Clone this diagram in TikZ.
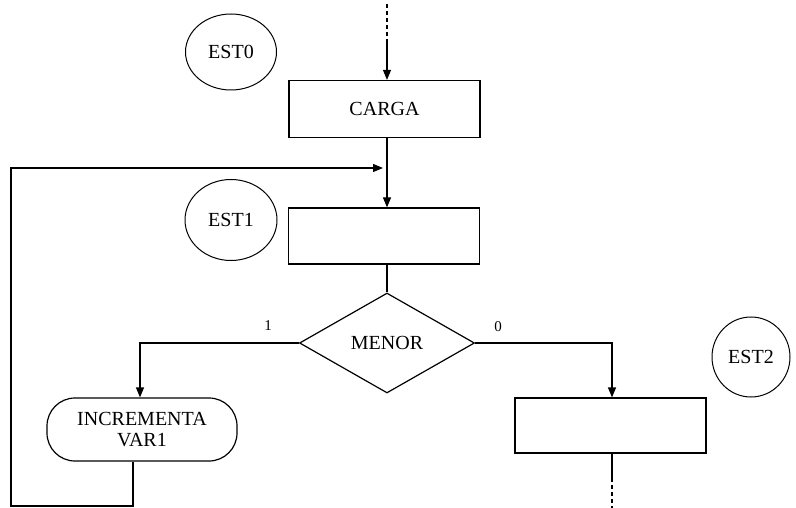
\documentclass[tikz,border=0pt]{standalone}
\usepackage{fontspec}
\setmainfont{Liberation Serif}
\usetikzlibrary{shapes.geometric,arrows.meta}
\begin{document}
\begin{tikzpicture}[x=1pt,y=-1pt,
  line width=1.2pt,
  every node/.style={font=\fontsize{20}{22}\selectfont, inner sep=0pt},
  state/.style={ellipse, draw, line width=1pt},
  proc/.style={rectangle, draw, minimum width=191pt, minimum height=56pt},
  decis/.style={diamond, draw, minimum width=175pt, minimum height=100pt, aspect=1.75},
  term/.style={rectangle, draw, rounded corners=28pt, minimum width=190pt, minimum height=63pt, align=center},
  flow/.style={-{Triangle[width=8pt,length=10pt]}},
  dotline/.style={dash pattern=on 4pt off 3pt},
  branch/.style={font=\fontsize{15}{17}\selectfont}]
\useasboundingbox (0,0) rectangle (796,508);

% state labels
\node[state, minimum width=91pt, minimum height=76pt] (est0) at (231,52) {EST0};
\node[state, minimum width=92pt, minimum height=81pt] (est1) at (231,220) {EST1};
\node[state, minimum width=78pt, minimum height=80pt] (est2) at (751,357) {EST2};

% blocks
\node[proc, minimum height=57pt] (carga) at (384.5,109) {CARGA};
\node[proc] (blk1) at (384,236) {};
\node[decis] (menor) at (387,343) {MENOR};
\node[term] (incr) at (142,429.5) {INCREMENTA\\[-1pt]VAR1};
\node[proc, minimum height=55pt] (blk2) at (610.5,425.5) {};

% branch labels
\node[branch] (lab1) at (268,326) {1};
\node[branch] (lab0) at (498,327) {0};

% spine coordinates
\coordinate (top) at (387,4);
\coordinate (topd) at (387,42);
\coordinate (join) at (387,168);
\coordinate (corner1) at (11,168);
\coordinate (corner2) at (11,506);
\coordinate (incrout) at (133,506);
\coordinate (leftturn) at (140,343);
\coordinate (rightturn) at (612,343);
\coordinate (endsol) at (612,478);
\coordinate (bottom) at (612,508);

% entry
\draw[dotline] (top) -- (topd);
\draw[flow] (topd) -- (topd |- carga.north);
% CARGA to first block
\draw[flow] (topd |- carga.south) -- (join |- blk1.north);
% first block to decision
\draw (join |- blk1.south) -- (menor.north);
% branch 1
\draw[flow] (menor.west) -- (leftturn) -- (leftturn |- incr.north);
% branch 0
\draw[flow] (menor.east) -- (rightturn) -- (rightturn |- blk2.north);
% loop back
\draw[flow] (incrout |- incr.south) -- (incrout) -- (corner2) -- (corner1) -- ([xshift=-4pt]join);
% exit
\draw (rightturn |- blk2.south) -- (endsol);
\draw[dotline] (endsol) -- (bottom);
\end{tikzpicture}
\end{document}
